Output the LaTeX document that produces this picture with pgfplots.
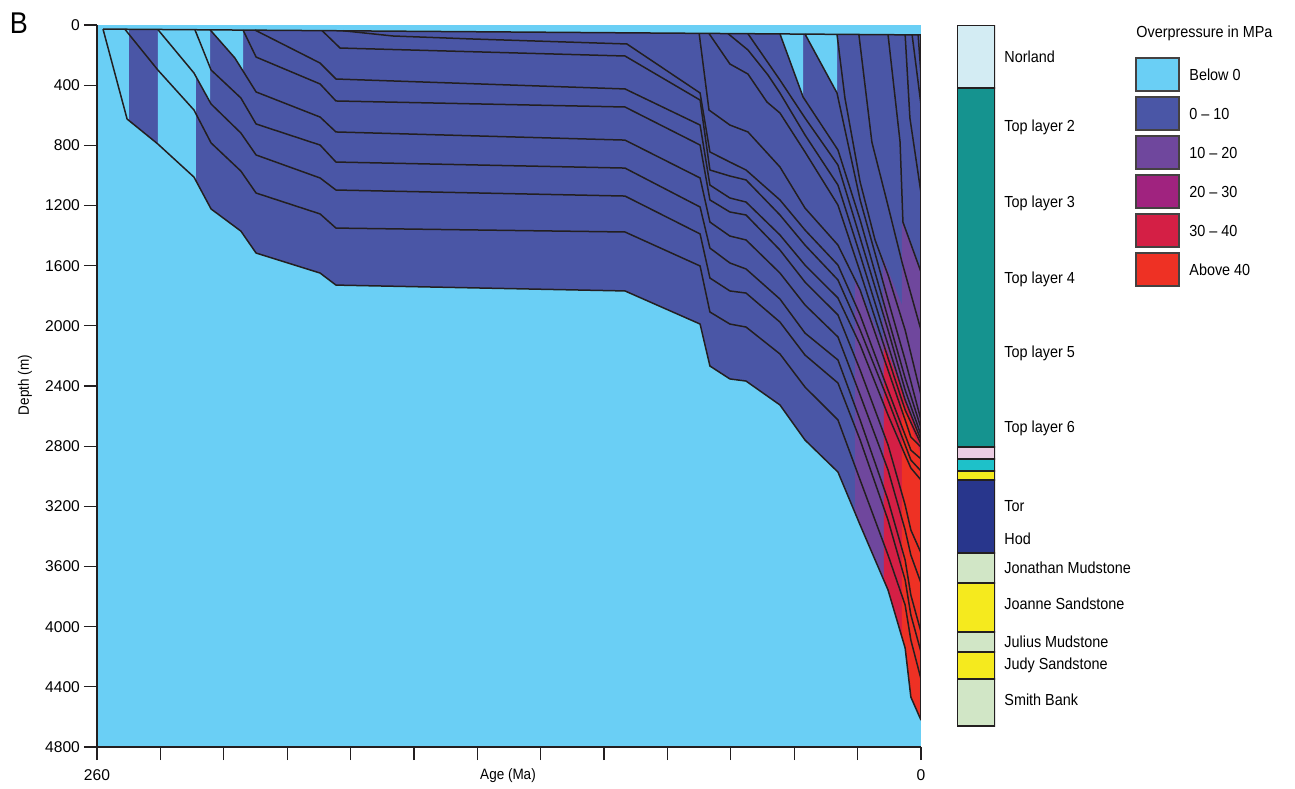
\documentclass[border=0pt]{standalone}
\usepackage{fontspec}
\setmainfont{Liberation Sans}[FakeStretch=0.9]
\newfontfamily\tickfont{Liberation Sans}
\usepackage{pgfplots}
\pgfplotsset{compat=1.18}
\definecolor{lb}{RGB}{106,207,245}
\definecolor{db}{RGB}{74,86,166}
\definecolor{pu}{RGB}{111,71,157}
\definecolor{mg}{RGB}{160,35,127}
\definecolor{rd}{RGB}{212,31,69}
\definecolor{og}{RGB}{238,49,36}
\definecolor{nor}{RGB}{211,236,243}
\definecolor{tl}{RGB}{21,147,143}
\definecolor{pk}{RGB}{235,205,227}
\definecolor{cy}{RGB}{30,193,201}
\definecolor{ye}{RGB}{245,234,30}
\definecolor{nv}{RGB}{40,54,140}
\definecolor{lg}{RGB}{209,230,198}
\definecolor{ln}{RGB}{35,31,32}
\pgfplotsset{
 bl/.style={draw=ln, line width=0.75pt, mark=none, solid, line join=round},
 fz/.style={draw=none, mark=none, fill=#1},
}
\begin{document}
\begin{tikzpicture}
\useasboundingbox (-48.5pt,-20.5pt) rectangle (599pt,373.5pt);
\begin{axis}[
 at={(0pt,0pt)}, anchor=south west,
 scale only axis, width=412pt, height=361pt,
 xmin=0, xmax=260, ymin=0, ymax=4800,
 x dir=reverse, y dir=reverse,
 axis background/.style={fill=lb},
 axis x line*=bottom, axis y line*=left,
 axis line style={ln, line width=0.8pt, -},
 xtick={0,20,...,260}, xticklabels={0,,,,,,,,,,,,,260},
 ytick={0,400,...,4800},
 tick align=outside, major tick length=6.5pt,
 tick style={ln, line width=0.6pt},
 tick label style={font=\tickfont\fontsize{7.8}{9}\selectfont},
 xticklabel style={yshift=-1.5pt},
 yticklabel style={xshift=1.5pt},
 /pgf/number format/assume math mode=true,
 /pgf/number format/1000 sep={},
]
% 0-10 MPa region
\addplot[fz=db] coordinates {(258.1,27) (0,66) (0,4621) (3.2,4468) (5.0,4142) (10.4,3756) (19.2,3324) (26.2,2972) (36.6,2759) (44.5,2526) (55.2,2367) (60.3,2353) (66.6,2267) (69.7,1988) (93.4,1768) (184.6,1729) (189.6,1649) (209.8,1516) (214.6,1370) (224.0,1223) (229.4,1011) (240.8,791) (250.5,625)} --cycle;
% below 0 wedges
\addplot[fz=lb] coordinates {(258.1,27) (249.9,28) (249.9,635) (250.5,625)} --cycle;
\addplot[fz=lb] coordinates {(240.8,30) (228.8,31) (228.8,1035) (229.4,1011) (240.8,791)} --cycle;
\addplot[fz=lb] coordinates {(228.8,31) (224.3,32) (224.3,514) (228.8,342)} --cycle;
\addplot[fz=lb] coordinates {(224.3,32) (213.9,34) (213.9,307) (216.5,219)} --cycle;
\addplot[fz=lb] coordinates {(44.5,59) (37.2,60) (37.2,479)} --cycle;
\addplot[fz=lb] coordinates {(36.6,60) (26.5,62) (26.5,452)} --cycle;
% 10-20
\addplot[fz=pu] coordinates {(20.8,1682) (12.0,2127) (12.0,3677) (19.2,3324) (20.8,3244)} --cycle;
\addplot[fz=pu] coordinates {(12.0,1549) (6.0,1861) (6.0,4071) (10.4,3756) (12.0,3677)} --cycle;
\addplot[fz=pu] coordinates {(6.0,1310) (0,1642) (0,4621) (3.2,4468) (5.0,4142) (6.0,4071)} --cycle;
% 30-40
\addplot[fz=rd] coordinates {(11.7,2114) (0,2759) (0,4621) (3.2,4468) (5.0,4142) (10.4,3756) (11.7,3692)} --cycle;
% above 40
\addplot[fz=og] coordinates {(6.0,2493) (0,2859) (0,4621) (3.2,4468) (5.0,4142) (6.0,4071)} --cycle;
% burial lines
\addplot[bl] coordinates {(258.1,27) (0,66)};
\addplot[bl] coordinates {(258.1,27) (250.5,625) (240.8,791) (229.4,1011) (224.0,1223) (214.6,1370) (209.8,1516) (189.6,1649) (184.6,1729) (93.4,1768) (69.7,1988) (66.6,2267) (60.3,2353) (55.2,2367) (44.5,2526) (36.6,2759) (26.2,2972) (19.2,3324) (10.4,3756) (5.0,4142) (3.2,4468) (0,4621)};
\addplot[bl] coordinates {(251.2,28) (240.8,299) (229.4,565) (224.0,784) (214.6,971) (209.8,1117) (189.6,1256) (184.6,1350) (93.4,1376) (69.7,1602) (66.6,1908) (60.3,1988) (55.2,2008) (44.5,2187) (36.6,2407) (26.2,2626) (19.2,3025) (10.4,3524) (5.0,3856) (3.2,4089) (0,4348)};
\addplot[bl] coordinates {(240.8,30) (229.4,319) (224.0,525) (214.6,718) (209.8,864) (189.6,1017) (184.6,1097) (93.4,1137) (69.7,1389) (66.6,1682) (60.3,1768) (55.2,1782) (44.5,1975) (36.6,2194) (26.2,2380) (19.2,2759) (10.4,3291) (5.0,3690) (3.2,3922) (0,4168)};
\addplot[bl] coordinates {(229.1,31) (224.0,299) (214.6,485) (209.8,658) (189.6,798) (184.6,911) (93.4,951) (69.7,1210) (66.6,1483) (60.3,1582) (55.2,1622) (44.5,1822) (36.6,2048) (26.2,2227) (19.2,2626) (10.4,3158) (5.0,3557) (3.2,3790) (0,4035)};
\addplot[bl] coordinates {(224.3,32) (216.5,219) (209.8,445) (189.6,612) (184.6,711) (93.4,765) (69.7,1017) (66.6,1310) (60.3,1403) (55.2,1429) (44.5,1649) (36.6,1861) (26.2,2074) (19.2,2460) (10.4,2958) (5.0,3357) (3.2,3524) (0,3710)};
\addplot[bl] coordinates {(213.9,34) (209.8,213) (189.6,392) (184.6,505) (93.4,545) (69.7,798) (66.6,1163) (60.3,1243) (55.2,1263) (44.5,1496) (36.6,1709) (26.2,1928) (19.2,2294) (10.4,2792) (5.0,3191) (3.2,3357) (0,3510)};
\addplot[bl] coordinates {(210.1,34) (189.6,253) (184.6,359) (93.4,425) (69.7,665) (66.6,1064) (60.3,1150) (55.2,1177) (44.5,1396) (36.6,1596) (26.2,1815) (19.2,2127) (10.4,2593) (5.0,2859) (3.2,2945) (0,3025)};
\addplot[bl] coordinates {(189.0,37) (183.3,153) (93.4,206) (69.7,499) (66.6,964) (60.3,1004) (55.2,1030) (44.5,1263) (36.6,1463) (26.2,1695) (19.2,2028) (10.4,2493) (5.0,2792) (3.2,2892) (0,2965)};
\addplot[bl] coordinates {(182.4,38) (166.6,73) (141.4,93) (92.8,126) (69.7,452) (66.6,844) (60.3,911) (55.2,964) (44.5,1163) (36.6,1363) (26.2,1596) (19.2,1928) (10.4,2427) (5.0,2726) (3.2,2826) (0,2885)};
\addplot[bl] coordinates {(70.0,55) (66.9,565) (60.3,665) (54.6,711) (44.5,944) (36.6,1217) (26.2,1463) (19.2,1762) (10.4,2294) (5.0,2626) (3.2,2739) (0,2806)};
\addplot[bl] coordinates {(66.9,56) (60.3,259) (54.6,326) (48.6,512) (44.5,585) (36.6,844) (26.2,1197) (19.2,1642) (10.4,2214) (5.0,2560) (0,2786)};
\addplot[bl] coordinates {(60.9,57) (54.6,166) (48.3,332) (44.5,452) (36.6,731) (26.2,1064) (19.2,1529) (10.4,2127) (5.0,2493) (0,2759)};
\addplot[bl] coordinates {(54.6,58) (44.5,366) (36.6,618) (26.2,931) (19.2,1416) (10.4,2028) (5.0,2427) (0,2726)};
\addplot[bl] coordinates {(44.5,59) (37.2,479) (26.2,831) (19.2,1296) (10.4,1948) (5.0,2347) (0,2679)};
\addplot[bl] coordinates {(36.6,60) (26.5,452) (19.2,1163) (10.4,1828) (5.0,2227) (0,2626)};
\addplot[bl] coordinates {(26.5,62) (24.0,485) (19.2,1044) (14.5,1429) (10.4,1662) (5.0,2028) (0,2460)};
\addplot[bl] coordinates {(19.6,63) (15.5,778) (10.7,1177) (6.0,1576) (0,2028)};
\addplot[bl] coordinates {(10.4,64) (6.6,778) (5.7,1310) (0,1642)};
\addplot[bl] coordinates {(5.0,65) (3.5,618) (0,1117)};
\addplot[bl] coordinates {(2.8,66) (0,530)};
\addplot[bl] coordinates {(0.9,66) (0,330)};
\addplot[bl, line width=0.5pt] coordinates {(0,66) (0,4621)};
\end{axis}
% stratigraphic column
\begin{axis}[at={(430pt,0pt)}, anchor=south west, scale only axis, width=19pt, height=361pt,
 xmin=0, xmax=1, ymin=0, ymax=4800, y dir=reverse, hide axis]
\pgfplotsset{sc/.style={draw=ln, line width=0.8pt, mark=none, solid, fill=#1}}
\addplot[sc=nor] coordinates {(0,0) (1,0) (1,419) (0,419)} --cycle;
\addplot[sc=tl] coordinates {(0,419) (1,419) (1,2806) (0,2806)} --cycle;
\addplot[sc=pk] coordinates {(0,2806) (1,2806) (1,2885) (0,2885)} --cycle;
\addplot[sc=cy] coordinates {(0,2885) (1,2885) (1,2965) (0,2965)} --cycle;
\addplot[sc=ye] coordinates {(0,2965) (1,2965) (1,3025) (0,3025)} --cycle;
\addplot[sc=nv] coordinates {(0,3025) (1,3025) (1,3510) (0,3510)} --cycle;
\addplot[sc=lg] coordinates {(0,3510) (1,3510) (1,3710) (0,3710)} --cycle;
\addplot[sc=ye] coordinates {(0,3710) (1,3710) (1,4035) (0,4035)} --cycle;
\addplot[sc=lg] coordinates {(0,4035) (1,4035) (1,4168) (0,4168)} --cycle;
\addplot[sc=ye] coordinates {(0,4168) (1,4168) (1,4348) (0,4348)} --cycle;
\addplot[sc=lg] coordinates {(0,4348) (1,4348) (1,4660) (0,4660)} --cycle;
\end{axis}
\begin{scope}[every node/.style={font=\fontsize{8}{10}\selectfont, anchor=west, inner sep=0pt}]
\node at (453.5pt,345pt) {Norland};
\node at (453.5pt,310pt) {Top layer 2};
\node at (453.5pt,272pt) {Top layer 3};
\node at (453.5pt,234pt) {Top layer 4};
\node at (453.5pt,197pt) {Top layer 5};
\node at (453.5pt,159.5pt) {Top layer 6};
\node at (453.5pt,120.5pt) {Tor};
\node at (453.5pt,104pt) {Hod};
\node at (453.5pt,89.5pt) {Jonathan Mudstone};
\node at (453.5pt,71.5pt) {Joanne Sandstone};
\node at (453.5pt,52.5pt) {Julius Mudstone};
\node at (453.5pt,41pt) {Judy Sandstone};
\node at (453.5pt,23.5pt) {Smith Bank};
\node at (519.5pt,357pt) {Overpressure in MPa};
\node at (546pt,336pt) {Below 0};
\node at (546pt,316.5pt) {0 -- 10};
\node at (546pt,297pt) {10 -- 20};
\node at (546pt,277.5pt) {20 -- 30};
\node at (546pt,258pt) {30 -- 40};
\node at (546pt,238.5pt) {Above 40};
\end{scope}
\begin{scope}[draw=ln!85, line width=0.7pt]
\filldraw[fill=lb] (519.5pt,328pt) rectangle (541pt,344.5pt);
\filldraw[fill=db] (519.5pt,308.5pt) rectangle (541pt,325pt);
\filldraw[fill=pu] (519.5pt,289pt) rectangle (541pt,305.5pt);
\filldraw[fill=mg] (519.5pt,269.5pt) rectangle (541pt,286pt);
\filldraw[fill=rd] (519.5pt,250pt) rectangle (541pt,266.5pt);
\filldraw[fill=og] (519.5pt,230.5pt) rectangle (541pt,247pt);
\end{scope}
\node[font=\fontsize{15}{15}\selectfont] at (-39pt,362pt) {B};
\node[font=\fontsize{7.5}{9}\selectfont, rotate=90] at (-36pt,181pt) {Depth (m)};
\node[font=\fontsize{7.5}{9}\selectfont] at (205.5pt,-14.5pt) {Age (Ma)};
\end{tikzpicture}
\end{document}
